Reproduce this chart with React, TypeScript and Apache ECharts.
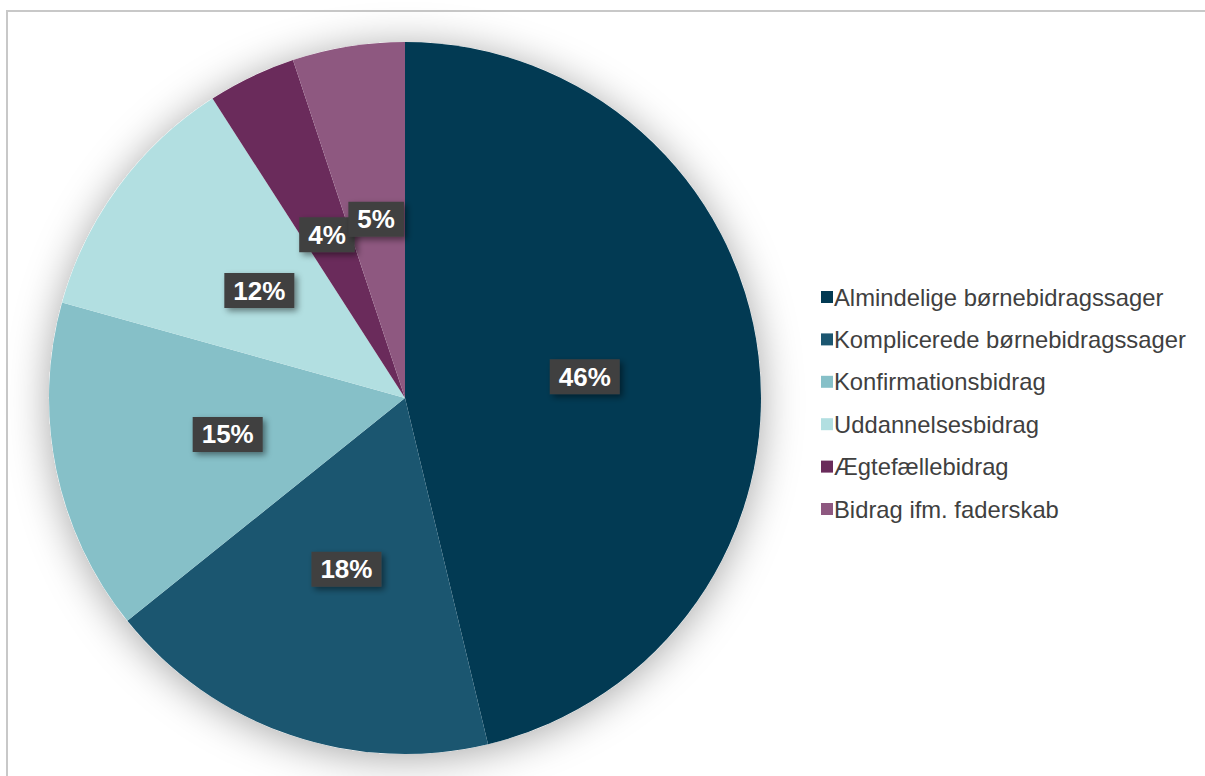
import React, { useEffect, useRef } from "react";
import * as echarts from "echarts";

const categories = [
  "Almindelige børnebidragssager",
  "Komplicerede børnebidragssager",
  "Konfirmationsbidrag",
  "Uddannelsesbidrag",
  "Ægtefællebidrag",
  "Bidrag ifm. faderskab",
];
const values = [46.3, 18.0, 15.1, 11.6, 4.0, 5.1];
const colors = ["#023A53", "#1B5670", "#86C0C8", "#B2DFE1", "#6A2B5B", "#8E5880"];

export default function App() {
  const ref = useRef<HTMLDivElement>(null);
  useEffect(() => {
    document.body.style.margin = "0";
    const chart = echarts.init(ref.current!, null, { renderer: "svg" });
    const total = values.reduce((a, b) => a + b, 0);
    chart.setOption({
      animation: false,
      backgroundColor: "#ffffff",
      graphic: [
        {
          type: "rect",
          shape: { x: 7, y: 11, width: 1215, height: 800 },
          style: { fill: "none", stroke: "#c8c8c8", lineWidth: 2 },
          z: 0,
        },
      ],
      legend: {
        orient: "vertical",
        left: 816,
        top: 280,
        icon: "rect",
        itemWidth: 12,
        itemHeight: 12,
        itemGap: 18.4,
        textStyle: {
          fontFamily: "Liberation Sans, Arial, sans-serif",
          fontSize: 23.8,
          lineHeight: 24,
          color: "#404040",
          padding: [0, 0, 0, -4],
        },
        data: categories,
      },
      series: [
        {
          type: "pie",
          silent: true,
          center: [405, 398],
          radius: 356,
          z: 1,
          label: { show: false },
          labelLine: { show: false },
          itemStyle: {
            color: "#ffffff",
            shadowBlur: 40,
            shadowColor: "rgba(0,0,0,0.35)",
            shadowOffsetY: 4,
          },
          data: [{ value: 1, name: "__bg" }],
          legendHoverLink: false,
        },
        {
          type: "pie",
          center: [405, 398],
          radius: 356,
          startAngle: 90,
          clockwise: true,
          z: 2,
          avoidLabelOverlap: false,
          labelLayout: { hideOverlap: false },
          itemStyle: { borderWidth: 0 },
          label: {
            show: true,
            position: "inside",
            formatter: (p: any) => Math.round((p.value / total) * 100) + "%",
            color: "#ffffff",
            fontFamily: "Liberation Sans, Arial, sans-serif",
            fontWeight: "bold",
            fontSize: 26,
            lineHeight: 26,
            backgroundColor: "#404040",
            padding: [5, 9, 4, 9],
            shadowColor: "rgba(0,0,0,0.45)",
            shadowBlur: 6,
            shadowOffsetX: 3,
            shadowOffsetY: 3,
          },
          labelLine: { show: false },
          data: categories.map((name, i) => ({
            name,
            value: values[i],
            itemStyle: { color: colors[i] },
          })),
        },
      ],
    });
    return () => chart.dispose();
  }, []);
  return <div ref={ref} style={{ width: 1205, height: 776 }} />;
}
